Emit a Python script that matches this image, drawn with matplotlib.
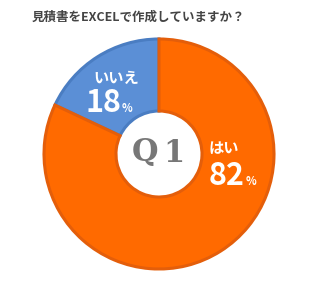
import matplotlib
matplotlib.use('Agg')
import matplotlib.pyplot as plt

plt.rcParams['font.family'] = ['Noto Sans CJK JP', 'DejaVu Sans']

title = '見積書をEXCELで作成していますか？'
labels = ['いいえ', 'はい']
values = [18, 82]
colors = ['#5B8FD6', '#FF6A00']
edges = ['#4A7DC2', '#E45E0A']

W, H = 334, 290
fig = plt.figure(figsize=(W / 100, H / 100), dpi=100)
ax = fig.add_axes([0, 0, 1, 1])

cx, cy, r, r_in = 159, H - 154, 115, 43
wedges, _ = ax.pie(values, colors=colors, startangle=90, counterclock=True,
                   center=(cx, cy), radius=r, frame=True,
                   wedgeprops=dict(width=r - r_in, linewidth=2.2))
for w, ec in zip(wedges, edges):
    w.set_edgecolor(ec)
ax.set_xlim(0, W)
ax.set_ylim(0, H)
ax.set_aspect('equal')
ax.axis('off')

ax.text(32, H - 17, title, fontsize=9, fontweight='bold', color='#444444',
        ha='left', va='center')

# Q1 in the hole, a bit spaced out
ax.text(145, H - 153, 'Q', fontsize=22, fontweight='bold', color='#777777',
        family=['DejaVu Serif'], ha='center', va='center')
ax.text(174, H - 153, '1', fontsize=22, fontweight='bold', color='#777777',
        family=['DejaVu Serif'], ha='center', va='center')

# いいえ
ax.text(116, H - 78, labels[0], fontsize=11, fontweight='bold', color='white',
        ha='center', va='center')
ax.text(121, H - 112, str(values[0]), fontsize=22, fontweight='bold', color='white',
        ha='right', va='baseline')
ax.text(122, H - 112, '%', fontsize=8, fontweight='bold', color='white',
        ha='left', va='baseline')

# はい
ax.text(224, H - 148, labels[1], fontsize=11, fontweight='bold', color='white',
        ha='center', va='center')
ax.text(245, H - 185, str(values[1]), fontsize=22, fontweight='bold', color='white',
        ha='right', va='baseline')
ax.text(246, H - 185, '%', fontsize=8, fontweight='bold', color='white',
        ha='left', va='baseline')

fig.savefig('out.png', dpi=100)
